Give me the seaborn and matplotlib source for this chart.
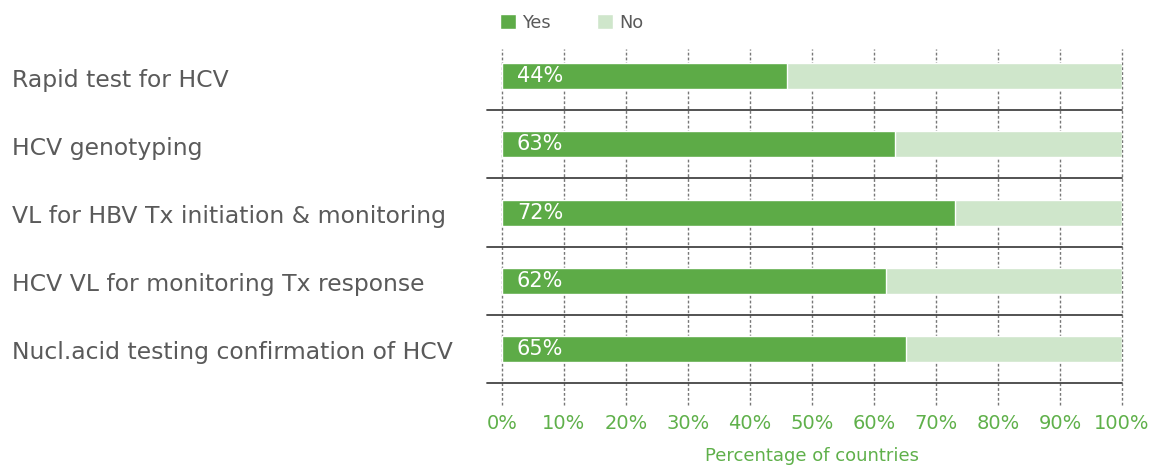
import matplotlib
matplotlib.use("Agg")
import matplotlib.pyplot as plt
import seaborn as sns
import pandas as pd
from matplotlib.patches import Patch

categories = [
    "Rapid test for HCV",
    "HCV genotyping",
    "VL for HBV Tx initiation & monitoring",
    "HCV VL for monitoring Tx response",
    "Nucl.acid testing confirmation of HCV",
]
yes_values = [46, 63.4, 73, 62, 65.2]
no_values = [100 - v for v in yes_values]
bar_labels = ["44%", "63%", "72%", "62%", "65%"]
x_ticks = [0, 10, 20, 30, 40, 50, 60, 70, 80, 90, 100]
x_tick_labels = [f"{t}%" for t in x_ticks]

YES = "#5dab47"
NO = "#cfe6cb"
GREEN_TXT = "#5fb04a"
GRAY_TXT = "#5a5a5a"

sns.set_theme(style="white")
plt.rcParams['font.family'] = ['DejaVu Sans']

df = pd.DataFrame({"cat": categories, "yes": yes_values,
                   "total": [y + n for y, n in zip(yes_values, no_values)]})

fig = plt.figure(figsize=(11.52, 4.69), dpi=100)
ax = fig.add_axes([502/1152, 1 - 400/469, 620/1152, (400 - 49)/469])

sns.barplot(data=df, x="total", y="cat", orient="h", color=NO, width=0.38,
            ax=ax, saturation=1, zorder=2)
sns.barplot(data=df, x="yes", y="cat", orient="h", color=YES, width=0.38,
            ax=ax, saturation=1, zorder=3)

ax.set_xlim(0, 100)
ax.set_ylim(4.75, -0.4)
ax.set_xticks(x_ticks)
ax.set_xticklabels(x_tick_labels, color=GREEN_TXT, fontsize=14)
ax.tick_params(axis="x", length=0, pad=10)
ax.set_yticks([])
ax.set_ylabel("")
ax.set_xlabel("Percentage of countries", color=GREEN_TXT, fontsize=13, labelpad=10)
for s in ax.spines.values():
    s.set_visible(False)

for t in x_ticks:
    ax.axvline(t, color="#777777", lw=1, ls=(0, (2, 1.5)), zorder=1,
               ymin=-0.015, ymax=1, clip_on=False)

for i in range(len(categories)):
    ax.axhline(i + 0.5, xmin=-0.024, xmax=1, color="#444444", lw=1.3,
               clip_on=False, zorder=4)

for i, (cat, lab) in enumerate(zip(categories, bar_labels)):
    ax.text(2.4, i, lab, color="white", fontsize=15, va="center", ha="left", zorder=5)
    ypix = ax.transData.transform((0, i))[1] - 4
    fig.text(12/1152, ypix / 469, cat,
             color=GRAY_TXT, fontsize=16.9, va="center", ha="left")

handles = [Patch(facecolor=YES, label="Yes"), Patch(facecolor=NO, label="No")]
fig.legend(handles=handles, loc="center left", bbox_to_anchor=(484/1152, 1 - 23/469),
           ncol=2, frameon=False, fontsize=12.8, handlelength=0.9, handleheight=0.9,
           handletextpad=0.35, columnspacing=2.6, labelcolor=GRAY_TXT)

fig.savefig("out.png", dpi=100)
